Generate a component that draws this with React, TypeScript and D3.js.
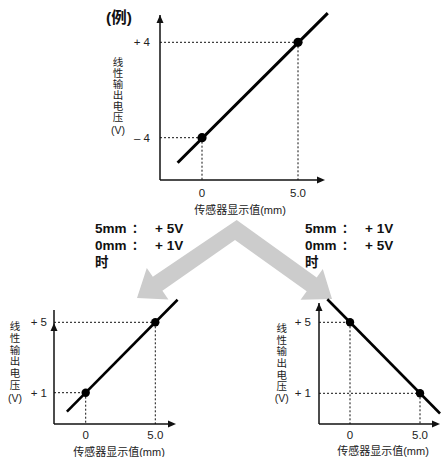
import React from 'react';
import * as d3 from 'd3';

// values
const xValues = [0, 5.0];
const xTickLabels = ['0', '5.0'];
const topY = [-4, 4];
const topYTickLabels = ['– 4', '+ 4'];
const topLine: [number, number][] = [[-1.27, -6.1], [6.55, 6.45]];
const leftY = [1, 5];
const leftYTickLabels = ['+ 1', '+ 5'];
const leftLine: [number, number][] = [[-1.35, -0.08], [6.6, 6.28]];
const rightY = [5, 1];
const rightYTickLabels = ['+ 5', '+ 1'];
const rightLine: [number, number][] = [[-1.62, 6.3], [6.43, -0.14]];
const yTitleChars = ['线', '性', '输', '出', '电', '压'];
const xTitle = '传感器显示值(mm)';
const leftNotes = [['5mm', '：', '+ 5V'], ['0mm', '：', '+ 1V'], ['时', '', '']];
const rightNotes = [['5mm', '：', '+ 1V'], ['0mm', '：', '+ 5V'], ['时', '', '']];

const FONT = '"Liberation Sans", Arial, "Noto Sans CJK SC", sans-serif';

interface PanelProps {
  ys: number[];
  yLabels: string[];
  line: [number, number][];
  xRange: [number, number];
  yDomain: [number, number];
  yRange: [number, number];
  ox: number;
  oy: number;
  xEnd: number;
  yEnd: number;
  yArrow: number;
  tickGap: number;
  xLabelDy: number;
  titleX: number;
  titleY: number;
  yTitleX: number;
  yTitleTop: number;
  yTitleStep: number;
  vY: number;
  lineW: number;
  r: number;
}

const Panel: React.FC<PanelProps> = (p) => {
  const x = d3.scaleLinear().domain([0, 5]).range(p.xRange);
  const y = d3.scaleLinear().domain(p.yDomain).range(p.yRange);
  const lineGen = d3.line<[number, number]>().x(d => x(d[0])).y(d => y(d[1]));
  const pts = xValues.map((xv, i) => [xv, p.ys[i]] as [number, number]);
  return (
    <g>
      {/* guide lines */}
      {pts.map((d, i) => (
        <g key={'g' + i} stroke="#111" strokeWidth={1} strokeDasharray="2,2">
          <line x1={p.ox} x2={x(d[0])} y1={y(d[1])} y2={y(d[1])} />
          <line x1={x(d[0])} x2={x(d[0])} y1={y(d[1])} y2={p.oy} />
        </g>
      ))}
      {/* axes */}
      <line x1={p.ox} x2={p.xEnd - 6} y1={p.oy} y2={p.oy} stroke="#111" strokeWidth={1.5} />
      <line x1={p.ox} x2={p.ox} y1={p.oy} y2={p.yEnd} stroke="#111" strokeWidth={1.5} />
      <polygon
        points={`${p.xEnd},${p.oy} ${p.xEnd - 8},${p.oy - 3.5} ${p.xEnd - 8},${p.oy + 3.5}`}
        fill="#111"
      />
      <polygon
        points={`${p.ox},${p.yArrow} ${p.ox - 3.5},${p.yArrow + 8} ${p.ox + 3.5},${p.yArrow + 8}`}
        fill="#111"
      />
      {/* data line and points */}
      <path d={lineGen(p.line) || ''} stroke="#000" strokeWidth={p.lineW} fill="none" />
      {pts.map((d, i) => (
        <circle key={'c' + i} cx={x(d[0])} cy={y(d[1])} r={p.r} fill="#000" />
      ))}
      {/* tick labels */}
      {pts.map((d, i) => (
        <text key={'yl' + i} x={p.ox - p.tickGap} y={y(d[1])} dy="0.35em" textAnchor="end"
          fontSize={11.5} fill="#222" fontFamily={FONT}>{p.yLabels[i]}</text>
      ))}
      {pts.map((d, i) => (
        <text key={'xl' + i} x={x(d[0])} y={p.oy + p.xLabelDy} textAnchor="middle"
          fontSize={11.5} fill="#222" fontFamily={FONT}>{xTickLabels[i]}</text>
      ))}
      {/* titles */}
      <text x={p.titleX} y={p.titleY} textAnchor="middle" fontSize={11} fill="#222"
        fontFamily={FONT}>{xTitle}</text>
      {yTitleChars.map((c, i) => (
        <text key={'yt' + i} x={p.yTitleX} y={p.yTitleTop + i * p.yTitleStep} dy="0.35em"
          textAnchor="middle" fontSize={10.5} fill="#222" fontFamily={FONT}>{c}</text>
      ))}
      <text x={p.yTitleX} y={p.vY} dy="0.35em" textAnchor="middle" fontSize={10.5} fill="#222"
        fontFamily={FONT}>(V)</text>
    </g>
  );
};

const Notes: React.FC<{ rows: string[][]; x: number }> = ({ rows, x }) => (
  <g fontFamily={FONT} fontWeight="bold" fontSize={13.5} fill="#111">
    {rows.map((r, i) => (
      <g key={i}>
        <text x={x} y={233 + i * 17}>{r[0]}</text>
        <text x={x + 37} y={233 + i * 17} fontSize={12}>{r[1]}</text>
        <text x={x + 60} y={233 + i * 17}>{r[2]}</text>
      </g>
    ))}
  </g>
);

const App: React.FC = () => {
  // the gray chevron arrow
  const chevron = [
    [137, 298], [146.8, 268.1], [152.8, 276.8], [236.7, 220], [316.7, 277.5],
    [322.8, 269], [332, 299], [300.6, 299.8], [306.7, 291.3], [235, 240],
    [162.4, 290.8], [168.4, 299.5],
  ];
  return (
    <svg width={443} height={457} style={{ position: 'absolute', left: 0, top: 0, background: '#fff' }}>
      <rect width={443} height={457} fill="#fff" />
      <text x={106} y={23} fontFamily={FONT} fontWeight="bold" fontSize={15.5} fill="#111">(例)</text>
      <Panel ys={topY} yLabels={topYTickLabels} line={topLine}
        xRange={[202, 298]} yDomain={[-4, 4]} yRange={[137.7, 42.3]}
        ox={160} oy={180} xEnd={325} yEnd={15} yArrow={15} tickGap={10} xLabelDy={17}
        titleX={240} titleY={214} yTitleX={118} yTitleTop={62} yTitleStep={11.1} vY={130}
        lineW={3} r={4.6} />
      <polygon points={chevron.map(d => d.join(',')).join(' ')} fill="#cccccc" />
      <Notes rows={leftNotes} x={95} />
      <Notes rows={rightNotes} x={305} />
      <Panel ys={leftY} yLabels={leftYTickLabels} line={leftLine}
        xRange={[85.7, 155.3]} yDomain={[1, 5]} yRange={[392.7, 322.3]}
        ox={54} oy={424} xEnd={176} yEnd={310} yArrow={323} tickGap={7} xLabelDy={15}
        titleX={119} titleY={456} yTitleX={15} yTitleTop={326.7} yTitleStep={11.7} vY={398.3}
        lineW={2.6} r={4.2} />
      <Panel ys={rightY} yLabels={rightYTickLabels} line={rightLine}
        xRange={[350, 420]} yDomain={[1, 5]} yRange={[393.3, 322.3]}
        ox={319} oy={424} xEnd={440} yEnd={303} yArrow={303} tickGap={8} xLabelDy={15}
        titleX={383} titleY={455} yTitleX={281.7} yTitleTop={328.3} yTitleStep={11.7} vY={398}
        lineW={2.6} r={4.2} />
    </svg>
  );
};

export default App;
